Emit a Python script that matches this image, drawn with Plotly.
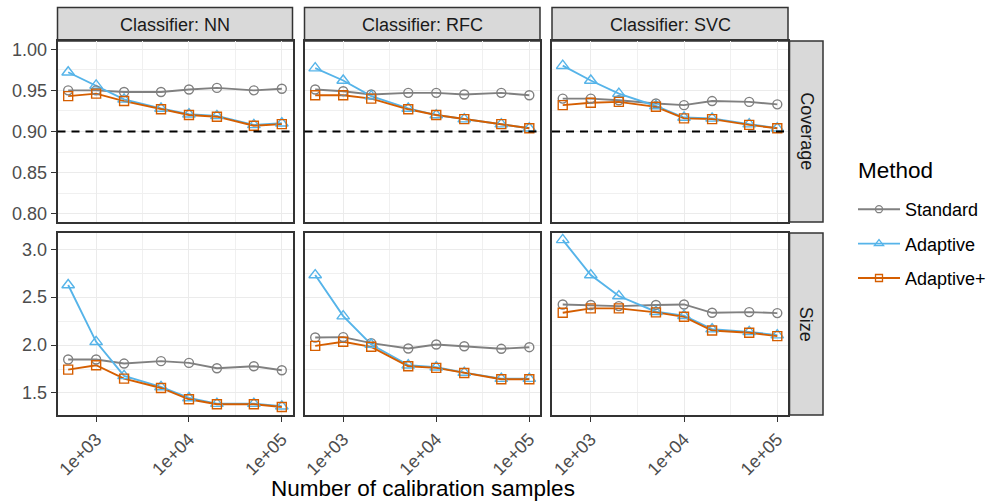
import plotly.graph_objects as go
from plotly.subplots import make_subplots

# ---------------- data ----------------
n_samples = [500, 1000, 2000, 5000, 10000, 20000, 50000, 100000]
classifiers = ["NN", "RFC", "SVC"]
methods = ["Standard", "Adaptive", "Adaptive+"]
metrics = ["Coverage", "Size"]

coverage_nn_standard = [0.950, 0.950, 0.948, 0.948, 0.951, 0.953, 0.950, 0.952]
coverage_nn_adaptive = [0.972, 0.956, 0.939, 0.928, 0.921, 0.919, 0.908, 0.910]
coverage_nn_adaptive_plus = [0.943, 0.946, 0.937, 0.927, 0.920, 0.918, 0.907, 0.909]

coverage_rfc_standard = [0.951, 0.949, 0.945, 0.947, 0.947, 0.945, 0.947, 0.944]
coverage_rfc_adaptive = [0.977, 0.962, 0.943, 0.928, 0.920, 0.915, 0.909, 0.904]
coverage_rfc_adaptive_plus = [0.944, 0.944, 0.940, 0.927, 0.920, 0.915, 0.909, 0.904]

coverage_svc_standard = [0.940, 0.940, 0.938, 0.934, 0.932, 0.937, 0.936, 0.933]
coverage_svc_adaptive = [0.980, 0.962, 0.946, 0.931, 0.917, 0.916, 0.909, 0.904]
coverage_svc_adaptive_plus = [0.932, 0.935, 0.936, 0.930, 0.916, 0.915, 0.908, 0.904]

size_nn_standard = [1.849, 1.849, 1.807, 1.832, 1.814, 1.758, 1.779, 1.737]
size_nn_adaptive = [2.627, 2.034, 1.678, 1.563, 1.448, 1.389, 1.389, 1.361]
size_nn_adaptive_plus = [1.744, 1.790, 1.650, 1.552, 1.434, 1.382, 1.382, 1.354]

size_rfc_standard = [2.079, 2.083, 2.020, 1.964, 2.006, 1.988, 1.961, 1.978]
size_rfc_adaptive = [2.731, 2.302, 2.006, 1.790, 1.769, 1.713, 1.650, 1.650]
size_rfc_adaptive_plus = [1.992, 2.034, 1.982, 1.779, 1.762, 1.709, 1.643, 1.643]

size_svc_standard = [2.424, 2.418, 2.407, 2.418, 2.424, 2.337, 2.344, 2.334]
size_svc_adaptive = [3.098, 2.731, 2.512, 2.348, 2.306, 2.166, 2.138, 2.104]
size_svc_adaptive_plus = [2.337, 2.383, 2.383, 2.341, 2.295, 2.152, 2.128, 2.093]

target_coverage = 0.90
x_tick_vals = [1e3, 1e4, 1e5]
x_tick_text = ["1e+03", "1e+04", "1e+05"]
coverage_ticks = [0.80, 0.85, 0.90, 0.95, 1.00]
size_ticks = [1.5, 2.0, 2.5, 3.0]

data = {
    ("Coverage", "NN"): [coverage_nn_standard, coverage_nn_adaptive, coverage_nn_adaptive_plus],
    ("Coverage", "RFC"): [coverage_rfc_standard, coverage_rfc_adaptive, coverage_rfc_adaptive_plus],
    ("Coverage", "SVC"): [coverage_svc_standard, coverage_svc_adaptive, coverage_svc_adaptive_plus],
    ("Size", "NN"): [size_nn_standard, size_nn_adaptive, size_nn_adaptive_plus],
    ("Size", "RFC"): [size_rfc_standard, size_rfc_adaptive, size_rfc_adaptive_plus],
    ("Size", "SVC"): [size_svc_standard, size_svc_adaptive, size_svc_adaptive_plus],
}

# ---------------- style ----------------
W, H = 987, 504
FONT = "Liberation Sans, Arial, sans-serif"
SMALL = 18
BIG = 22.5
colors = {"Standard": "#808080", "Adaptive": "#56B4E9", "Adaptive+": "#D55E00"}
symbols = {"Standard": "circle-open", "Adaptive": "triangle-up-open", "Adaptive+": "square-open"}
msizes = {"Standard": 9, "Adaptive": 11, "Adaptive+": 9}

col_px = [(57.5, 292.5), (304.5, 540.0), (552.0, 788.0)]
row_px = [(41.0, 222.0), (233.0, 415.0)]

def px_x(v):
    return v / W

def px_y(v):
    return 1 - v / H

fig = make_subplots(rows=2, cols=3)

for r, metric in enumerate(metrics):
    for c, clf in enumerate(classifiers):
        series = data[(metric, clf)]
        for m, vals in zip(methods, series):
            fig.add_trace(go.Scatter(x=n_samples, y=vals, mode="lines",
                                     line=dict(color=colors[m], width=1.9),
                                     showlegend=False, hoverinfo="skip"),
                          row=r + 1, col=c + 1)
        for m, vals in zip(methods, series):
            fig.add_trace(go.Scatter(x=n_samples, y=vals, mode="markers",
                                     marker=dict(symbol=symbols[m], size=msizes[m],
                                                 color=colors[m], line=dict(width=1.4, color=colors[m])),
                                     showlegend=False, name=m),
                          row=r + 1, col=c + 1)

# legend-only traces
for i, m in enumerate(methods):
    fig.add_trace(go.Scatter(x=[None], y=[None], mode="lines+markers", name=m,
                             legendgroup=m,
                             line=dict(color=colors[m], width=1.9),
                             marker=dict(symbol=symbols[m], size=7 if m != "Adaptive" else 8,
                                         color=colors[m], line=dict(width=1.3, color=colors[m]))),
                  row=1, col=1)

axis_common = dict(showline=True, mirror=True, linecolor="#333333", linewidth=1.5,
                   gridcolor="#EBEBEB", gridwidth=1.3, zeroline=False, automargin=False,
                   tickfont=dict(family=FONT, size=SMALL, color="#4D4D4D"),
                   ticks="outside", ticklen=5, tickcolor="#333333", tickwidth=1.3)

for r in range(2):
    for c in range(3):
        idx = r * 3 + c + 1
        xname = "xaxis" if idx == 1 else f"xaxis{idx}"
        yname = "yaxis" if idx == 1 else f"yaxis{idx}"
        bottom = (r == 1)
        left = (c == 0)
        xa = dict(axis_common)
        xa.update(type="log", range=[2.584, 5.115], domain=[px_x(col_px[c][0]), px_x(col_px[c][1])],
                  tickmode="array", tickvals=x_tick_vals, ticktext=x_tick_text,
                  tickangle=-45,
                  showticklabels=bottom, ticks="outside" if bottom else "",
                  minor=dict(tickmode="array", tickvals=[10 ** 2.5, 10 ** 3.5, 10 ** 4.5],
                             showgrid=True, gridcolor="#F0F0F0", gridwidth=0.8, ticks=""))
        ya = dict(axis_common)
        if r == 0:
            ya.update(range=[0.79, 1.01], tickvals=coverage_ticks, tickformat=".2f",
                      minor=dict(tickmode="array", tickvals=[0.825, 0.875, 0.925, 0.975],
                                 showgrid=True, gridcolor="#F0F0F0", gridwidth=0.8, ticks=""))
        else:
            ya.update(range=[1.27, 3.17], tickvals=size_ticks, tickformat=".1f",
                      minor=dict(tickmode="array", tickvals=[1.25, 1.75, 2.25, 2.75],
                                 showgrid=True, gridcolor="#F0F0F0", gridwidth=0.8, ticks=""))
        ya.update(tickmode="array", domain=[px_y(row_px[r][1]), px_y(row_px[r][0])],
                  showticklabels=left, ticks="outside" if left else "")
        fig.layout[xname].update(xa)
        fig.layout[yname].update(ya)

shapes = []
annotations = []
for c in range(3):
    xr = "x" if c == 0 else f"x{c + 1}"
    yr = "y" if c == 0 else f"y{c + 1}"
    shapes.append(dict(type="line", xref=f"{xr} domain", yref=yr, x0=0, x1=1,
                       y0=target_coverage, y1=target_coverage,
                       line=dict(color="black", width=2, dash="8px,6px"), layer="above"))

for c, clf in enumerate(classifiers):
    x0, x1 = px_x(col_px[c][0]), px_x(col_px[c][1])
    shapes.append(dict(type="rect", xref="paper", yref="paper", x0=x0, x1=x1,
                       y0=px_y(41.0), y1=px_y(7.5), fillcolor="#D9D9D9",
                       line=dict(color="#333333", width=1.5), layer="below"))
    annotations.append(dict(text=f"Classifier: {clf}", xref="paper", yref="paper",
                            x=(x0 + x1) / 2, y=px_y(24.5), showarrow=False,
                            xanchor="center", yanchor="middle",
                            font=dict(family=FONT, size=SMALL, color="#1A1A1A")))
for r, metric in enumerate(metrics):
    y0, y1 = px_y(row_px[r][1]), px_y(row_px[r][0])
    shapes.append(dict(type="rect", xref="paper", yref="paper", x0=px_x(789.5), x1=px_x(823),
                       y0=y0, y1=y1, fillcolor="#D9D9D9",
                       line=dict(color="#333333", width=1.5), layer="below"))
    annotations.append(dict(text=metric, xref="paper", yref="paper",
                            x=px_x(806.2), y=(y0 + y1) / 2, showarrow=False, textangle=90,
                            xanchor="center", yanchor="middle",
                            font=dict(family=FONT, size=SMALL, color="#1A1A1A")))

annotations.append(dict(text="Number of calibration samples", xref="paper", yref="paper",
                        x=px_x(422.7), y=px_y(488), showarrow=False,
                        xanchor="center", yanchor="middle",
                        font=dict(family=FONT, size=BIG, color="black")))

# legend title
annotations.append(dict(text="Method", xref="paper", yref="paper",
                        x=px_x(856), y=px_y(170), showarrow=False,
                        xanchor="left", yanchor="middle",
                        font=dict(family=FONT, size=BIG, color="black")))

fig.update_layout(
    width=W, height=H,
    margin=dict(l=0, r=0, t=0, b=0, autoexpand=False),
    paper_bgcolor="white", plot_bgcolor="white",
    shapes=shapes, annotations=annotations,
    font=dict(family=FONT),
    legend=dict(x=px_x(853), y=px_y(191), xanchor="left", yanchor="top",
                font=dict(family=FONT, size=SMALL, color="black"),
                traceorder="grouped", tracegroupgap=8,
                bgcolor="rgba(0,0,0,0)", itemwidth=42),
)

fig.write_html("out.html", config={"displayModeBar": False},
               post_script="document.body.style.margin='0';document.body.style.overflow='hidden';")
